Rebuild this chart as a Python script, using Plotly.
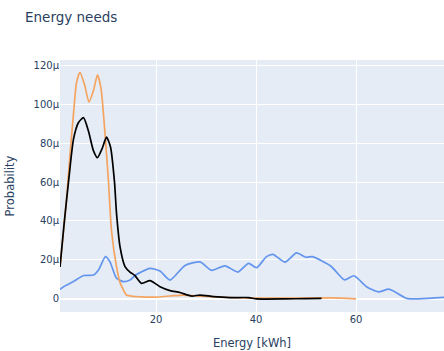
import plotly.graph_objects as go

# Blue series
blue_x = [0.8, 1.8, 3.5, 5.5, 7.5, 8.5, 9.9, 10.8, 12.1, 13.5, 14.8, 15.8, 16.8, 18.8, 20.8,
          22.8, 25.8, 28.8, 31.1, 33.8, 36.4, 38.5, 40.1, 42.1, 43.4, 45.8, 48.1, 50.0, 51.3,
          55.0, 57.7, 59.6, 62.1, 64.5, 66.6, 70.1, 72.1, 76.8, 80.0]
blue_y = [5.0, 6.7, 8.9, 12.0, 12.3, 14.9, 21.7, 19.0, 10.6, 8.9, 9.7, 12.0, 13.5, 15.7, 14.3,
          9.7, 17.2, 19.0, 14.7, 17.0, 13.8, 18.3, 16.0, 21.7, 22.9, 18.9, 23.6, 21.4, 21.7,
          16.8, 9.8, 11.9, 6.3, 3.6, 5.0, 0.3, 0.0, 0.7, 1.2]

# Orange series
orange_x = [0.8, 2.0, 2.8, 3.6, 4.1, 4.8, 5.7, 6.6, 7.5, 8.3, 9.0, 9.8, 10.5, 11.1, 12.1,
            12.8, 13.5, 14.1, 15.4, 17.0, 19.5, 22.8, 25.4, 28.0, 32.0, 40.0, 50.0, 55.0, 60.0]
orange_y = [16.4, 48.0, 74.0, 98.0, 111.0, 116.3, 110.0, 101.0, 107.0, 115.0, 108.0, 85.0, 60.0,
            35.0, 16.6, 8.5, 4.5, 2.0, 1.3, 1.1, 0.9, 1.5, 2.0, 1.6, 1.0, 0.4, 0.4, 0.5, 0.0]

# Black series
black_x = [0.8, 1.6, 2.5, 3.5, 4.5, 5.5, 6.5, 7.5, 8.3, 9.2, 10.1, 10.9, 11.7, 12.1, 12.8,
           13.8, 14.8, 15.8, 17.1, 18.8, 20.8, 22.8, 24.8, 27.1, 28.8, 31.5, 34.8, 38.5,
           40.1, 45.8, 50.0, 53.1]
black_y = [16.4, 38.0, 60.0, 82.0, 90.5, 93.0, 86.0, 76.0, 72.5, 77.0, 83.0, 78.0, 60.0, 44.0,
           26.8, 16.6, 13.8, 12.0, 8.0, 9.4, 6.3, 4.3, 3.3, 1.5, 2.0, 1.2, 0.7, 0.7,
           0.0, 0.0, 0.2, 0.3]

scale = 1e-6
FONT = "DejaVu Sans"

fig = go.Figure()
fig.add_trace(go.Scatter(x=blue_x, y=[v * scale for v in blue_y], mode="lines",
                         line=dict(color="#6495ED", width=1.7, shape="spline", smoothing=0.6),
                         showlegend=False))
fig.add_trace(go.Scatter(x=orange_x, y=[v * scale for v in orange_y], mode="lines",
                         line=dict(color="#F4A460", width=1.7, shape="spline", smoothing=0.6),
                         showlegend=False))
fig.add_trace(go.Scatter(x=black_x, y=[v * scale for v in black_y], mode="lines",
                         line=dict(color="black", width=1.7, shape="spline", smoothing=0.6),
                         showlegend=False))

fig.update_layout(
    width=444, height=351,
    template="plotly",
    font=dict(family=FONT, size=10, color="#2a3f5f"),
    title=dict(text="Energy needs", font=dict(size=13.5), x=25 / 444, xanchor="left",
               y=1 - 17 / 351, yref="container", yanchor="middle"),
    margin=dict(l=60, r=0, t=60, b=39),
    xaxis=dict(title=dict(text="Energy [kWh]", font=dict(size=11.5), standoff=14),
               range=[0.8, 77.6], automargin=False, tickfont=dict(size=10)),
    yaxis=dict(title=dict(text="Probability", font=dict(size=11.5), standoff=16),
               range=[-6.7e-6, 122.6e-6], automargin=False, tickfont=dict(size=10)),
)

fig.write_html("out.html",
               config={"displayModeBar": False},
               post_script="document.body.style.margin='0';document.body.style.overflow='hidden';")
